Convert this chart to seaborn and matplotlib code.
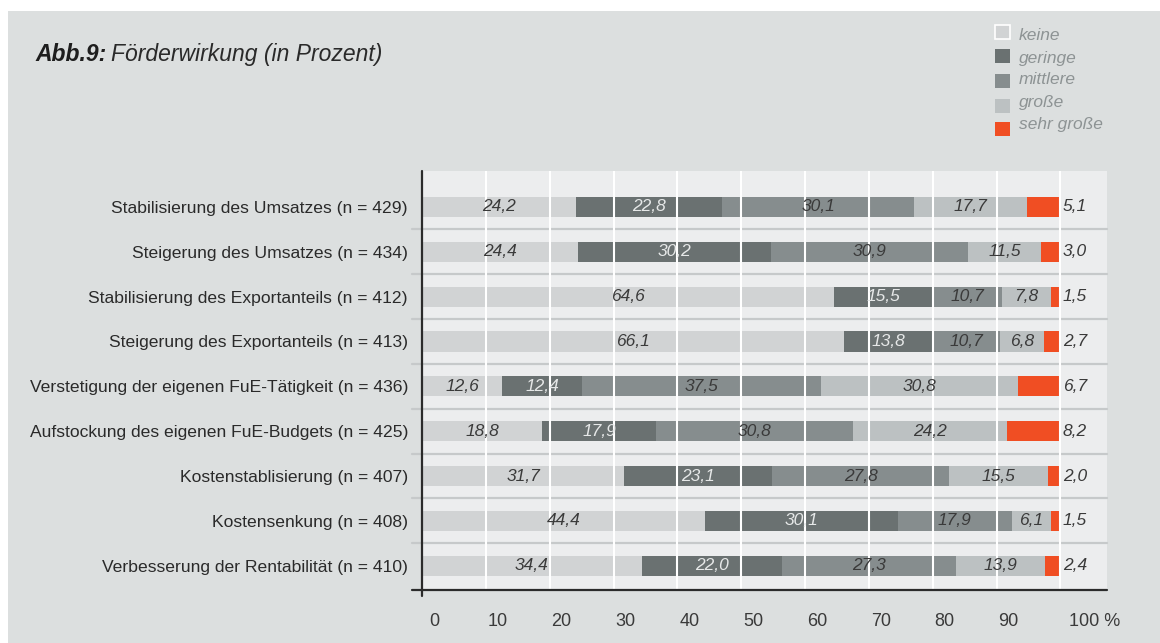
import numpy as np
import pandas as pd
import seaborn as sns
import matplotlib
matplotlib.use("Agg")
import matplotlib.pyplot as plt
from matplotlib.patches import Rectangle
from matplotlib.transforms import ScaledTranslation

# ---------------- data ----------------
categories = [
    "Stabilisierung des Umsatzes (n = 429)",
    "Steigerung des Umsatzes (n = 434)",
    "Stabilisierung des Exportanteils (n = 412)",
    "Steigerung des Exportanteils (n = 413)",
    "Verstetigung der eigenen FuE-Tätigkeit (n = 436)",
    "Aufstockung des eigenen FuE-Budgets (n = 425)",
    "Kostenstablisierung (n = 407)",
    "Kostensenkung (n = 408)",
    "Verbesserung der Rentabilität (n = 410)",
]
series_names = ["keine", "geringe", "mittlere", "große", "sehr große"]
keine = [24.2, 24.4, 64.6, 66.1, 12.6, 18.8, 31.7, 44.4, 34.4]
geringe = [22.8, 30.2, 15.5, 13.8, 12.4, 17.9, 23.1, 30.1, 22.0]
mittlere = [30.1, 30.9, 10.7, 10.7, 37.5, 30.8, 27.8, 17.9, 27.3]
grosse = [17.7, 11.5, 7.8, 6.8, 30.8, 24.2, 15.5, 6.1, 13.9]
sehr_grosse = [5.1, 3.0, 1.5, 2.7, 6.7, 8.2, 2.0, 1.5, 2.4]
x_ticks = [0, 10, 20, 30, 40, 50, 60, 70, 80, 90, 100]
x_ticklabels = ["0", "10", "20", "30", "40", "50", "60", "70", "80", "90", "100 %"]

colors = ["#d1d3d4", "#6a7171", "#868d8e", "#bcc1c2", "#f04e23"]
label_colors = ["#3a3a3a", "#e6e8e8", "#3a3a3a", "#3a3a3a", "#3a3a3a"]

# ---------------- style ----------------
sns.set_theme(style="white")
plt.rcParams["font.family"] = ["Liberation Sans", "DejaVu Sans"]

W, H = 1160, 643
fig = plt.figure(figsize=(W / 100, H / 100), dpi=100)
fig.patch.set_facecolor("white")
fig.patches.append(Rectangle((8 / W, 0), 1 - 8 / W, 1 - 11 / H,
                             transform=fig.transFigure, facecolor="#dcdfdf",
                             edgecolor="none", zorder=-10))

ax = fig.add_axes([422 / W, 53 / H, (1107 - 422) / W, (590 - 171) / H])
ax.set_facecolor("#ecedee")

vals = np.array([keine, geringe, mittlere, grosse, sehr_grosse])
cum = np.cumsum(vals, axis=0)
starts = cum - vals

rows = []
for si, name in enumerate(series_names):
    for ci, cat in enumerate(categories):
        rows.append({"cat": cat, "series": name, "end": cum[si, ci],
                     "start": starts[si, ci], "value": vals[si, ci]})
df = pd.DataFrame(rows)

# overlay cumulative bars (widest first)
for si in reversed(range(len(series_names))):
    sub = df[df["series"] == series_names[si]]
    sns.barplot(data=sub, x="end", y="cat", order=categories, orient="h",
                color=colors[si], saturation=1, width=0.45, errorbar=None,
                ax=ax, zorder=2)

for p in ax.patches:
    p.set_linewidth(0)

ax.set_xlim(0, 107.3)
ax.set_ylim(8.54, -0.8)

# white vertical grid lines on top of bars
for v in x_ticks[1:]:
    ax.axvline(v, color="white", lw=1.5, zorder=4)

# horizontal separators
for k in range(len(categories) - 1):
    ax.axhline(k + 0.5, xmin=-0.0146, xmax=1, color="#c6c9ca", lw=1.6,
               zorder=1, clip_on=False)

# axis lines
for s in ["top", "right", "left", "bottom"]:
    ax.spines[s].set_visible(False)
ax.plot([0, 0], [1, -0.015], transform=ax.transAxes, color="#2b2b2b",
        lw=1.6, clip_on=False, zorder=6)
ax.plot([-0.0146, 1], [0, 0], transform=ax.transAxes, color="#2b2b2b",
        lw=1.6, clip_on=False, zorder=6)

# value labels
for si in range(len(series_names)):
    for ci in range(len(categories)):
        v = vals[si, ci]
        txt = f"{v:.1f}".replace(".", ",")
        if si == len(series_names) - 1:
            ax.text(100.4, ci, txt, ha="left", va="center", fontsize=12.5,
                    style="italic", color="#3a3a3a", zorder=7)
        else:
            ax.text(starts[si, ci] + v / 2, ci, txt, ha="center", va="center",
                    fontsize=12.5, style="italic", color=label_colors[si], zorder=7)

# ticks
ax.set_xlabel("")
ax.set_ylabel("")
ax.set_xticks(x_ticks)
ax.set_xticklabels(x_ticklabels, fontsize=13, color="#3a3a3a")
ax.tick_params(axis="x", length=0, pad=16.5)
ax.tick_params(axis="y", length=0, pad=10, labelsize=12.6, labelcolor="#2a2a2a")
off = ScaledTranslation(0.12, 0, fig.dpi_scale_trans)
for lab in ax.get_xticklabels():
    lab.set_transform(lab.get_transform() + off)
last = ax.get_xticklabels()[-1]
last.set_ha("left")
last.set_transform(last.get_transform() + ScaledTranslation(-0.03, 0, fig.dpi_scale_trans))

# title
t1 = fig.text(35 / W, 1 - 61 / H, "Abb.9:", fontsize=16.5, fontweight="bold",
              style="italic", color="#1e1e1e", va="baseline", ha="left")
fig.canvas.draw()
bb = t1.get_window_extent(fig.canvas.get_renderer())
fig.text(bb.x1 / W + 5 / W, 1 - 61 / H, "Förderwirkung (in Prozent)", fontsize=16.5,
         style="italic", color="#2a2a2a", va="baseline", ha="left")

# legend
sq_centers = [31.5, 56, 81, 106, 128.5]
lab_centers = [36, 58, 80, 103, 125]
for i, name in enumerate(series_names):
    ec = "white" if i == 0 else "none"
    fig.patches.append(Rectangle((995 / W, 1 - (sq_centers[i] + 7) / H), 15 / W, 14 / H,
                                 transform=fig.transFigure, facecolor=colors[i],
                                 edgecolor=ec, lw=1.2))
    fig.text(1019 / W, 1 - lab_centers[i] / H, name, fontsize=12.5, style="italic",
             color="#8d9394", va="center", ha="left")

fig.savefig("out.png", dpi=100)
